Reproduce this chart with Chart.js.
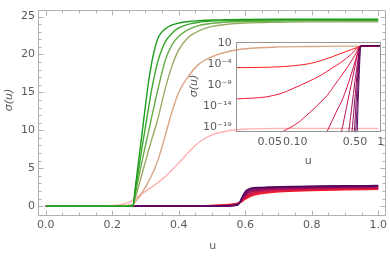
<!DOCTYPE html>
<html><head><meta charset="utf-8">
<script src="https://cdn.jsdelivr.net/npm/chart.js@4/dist/chart.umd.min.js"></script>
<style>
html,body{margin:0;padding:0;background:#fff;}
#wrap{position:relative;width:390px;height:257px;overflow:hidden;}
#main{position:absolute;left:0;top:0;}
#inset{position:absolute;left:180px;top:30px;}
</style></head>
<body><div id="wrap"><canvas id="main" width="390" height="257"></canvas><canvas id="inset" width="210" height="140"></canvas></div>
<script>
// ---------- main chart data ----------
const U_GREEN = [0, 0.1, 0.2, 0.22, 0.24, 0.25, 0.262, 0.27, 0.28, 0.29, 0.30, 0.31, 0.32, 0.33, 0.34, 0.36, 0.38, 0.40, 0.43, 0.46, 0.50, 0.55, 0.60, 0.70, 0.80, 0.90, 1.0];
const G1 = [0,0,0,0,0,0,0.05,2.7,6.2,9.7,13.3,16.6,19.2,21.1,22.4,23.4,23.9,24.15,24.35,24.45,24.55,24.6,24.62,24.64,24.65,24.65,24.65];
const G2 = [0,0,0,0,0,0,0.05,2.2,5.0,7.8,10.5,13.2,15.7,17.8,19.5,21.7,22.8,23.5,24.0,24.25,24.4,24.47,24.5,24.53,24.55,24.55,24.55];
const G3 = [0,0,0,0,0,0,0.05,1.7,3.9,6.0,8.0,10.0,12.0,14.0,15.9,19.3,21.3,22.4,23.3,23.8,24.1,24.28,24.35,24.4,24.43,24.45,24.45];
const G4 = [0,0,0,0,0,0.01,0.08,1.2,2.7,4.3,5.9,7.5,9.0,10.4,12.0,15.6,18.5,20.6,22.3,23.1,23.7,24.0,24.15,24.25,24.3,24.3,24.3];
const TAN = [0,0,0.01,0.03,0.08,0.13,0.25,0.6,1.15,1.8,2.5,3.3,4.2,5.2,6.4,9.4,12.5,15.0,17.2,18.7,19.7,20.4,20.75,21.0,21.05,21.1,21.1];
const PINK = [0,0.01,0.08,0.17,0.35,0.5,0.8,1.05,1.35,1.65,1.95,2.25,2.55,2.85,3.2,3.9,4.8,5.7,7.1,8.4,9.4,9.95,10.15,10.25,10.25,10.25,10.25];

const U_RED = [0, 0.4, 0.5, 0.55, 0.57, 0.58, 0.59, 0.60, 0.61, 0.62, 0.64, 0.67, 0.70, 0.75, 0.80, 0.90, 1.0];
const R0 = [0,0.01,0.10,0.22,0.33,0.42,0.60,0.90,1.15,1.35,1.58,1.76,1.87,1.98,2.06,2.15,2.20];
const R1 = [0,0.01,0.08,0.19,0.30,0.40,0.62,0.98,1.25,1.45,1.68,1.84,1.94,2.04,2.12,2.21,2.26];
const R2 = [0,0,0.06,0.16,0.27,0.38,0.65,1.07,1.36,1.56,1.78,1.93,2.02,2.11,2.18,2.27,2.32];
const R3 = [0,0,0.05,0.13,0.24,0.36,0.70,1.17,1.48,1.68,1.88,2.02,2.10,2.18,2.24,2.33,2.38];
const R4 = [0,0,0.04,0.11,0.21,0.34,0.76,1.28,1.60,1.80,1.98,2.11,2.18,2.25,2.31,2.39,2.44];
const R5 = [0,0,0.03,0.09,0.18,0.32,0.83,1.40,1.73,1.92,2.08,2.20,2.26,2.33,2.38,2.45,2.50];
const R6 = [0,0,0.02,0.07,0.15,0.30,0.90,1.53,1.86,2.04,2.18,2.28,2.34,2.40,2.45,2.51,2.56];
const R7 = [0,0,0.01,0.05,0.12,0.28,0.98,1.66,1.99,2.16,2.28,2.36,2.42,2.47,2.52,2.57,2.61];
const R8 = [0,0,0.01,0.03,0.10,0.26,1.06,1.80,2.12,2.28,2.38,2.45,2.50,2.55,2.59,2.63,2.66];
const R9 = [0,0,0,0.02,0.08,0.24,1.15,1.95,2.25,2.40,2.48,2.53,2.58,2.62,2.65,2.69,2.72];

const X_TICKS = [0, 0.2, 0.4, 0.6, 0.8, 1.0];
const Y_TICKS = [0, 5, 10, 15, 20, 25];

// ---------- inset data (log-log) ----------
const IA_U = [0.02,0.05,0.1,0.15,0.2,0.27,0.35,0.45,0.53,0.57,0.62,0.7,1];
const IA_S = [1.6e-5,2e-5,5e-5,1.6e-4,8e-4,6.3e-3,0.05,0.32,1.12,2.0,2.3,2.35,2.4];
const IB_U = [0.02,0.046,0.07,0.094,0.14,0.2,0.27,0.35,0.45,0.53,0.57,0.62,0.7,1];
const IB_S = [5e-13,1.6e-12,1.25e-11,1.6e-10,6.3e-9,2.5e-7,1.25e-5,4e-4,0.025,0.8,2.0,2.4,2.45,2.5];
const IC_U = [0.062,0.069,0.106,0.144,0.2,0.235,0.3,0.41,0.5,0.57,0.62,1];
const IC_S = [1e-21,5e-21,8e-19,1.8e-16,1e-13,3.2e-12,3.2e-9,2.5e-5,0.016,1.9,2.5,2.6];
const ID_U = [0.2,0.233,0.3,0.36,0.45,0.52,0.57,0.62,1];
const ID_S = [1e-23,5e-21,3.2e-16,6.3e-13,3.2e-7,6.3e-3,1.9,2.5,2.7];
const IE_U = [0.33,0.345,0.4,0.45,0.5,0.54,0.57,0.62,1];
const IE_S = [3.2e-22,5e-21,1e-14,1e-9,3.2e-5,0.05,2.0,2.6,2.75];
const IF_U = [0.41,0.42,0.46,0.5,0.54,0.57,0.62,1];
const IF_S = [1e-21,5e-21,1e-14,1e-8,1e-3,2.0,2.6,2.8];
const IG_U = [0.455,0.46,0.49,0.52,0.55,0.573,0.62,1];
const IG_S = [1e-21,5e-21,1e-14,1e-8,3.2e-3,2.0,2.7,2.8];
const IH_U = [0.485,0.49,0.51,0.535,0.555,0.577,0.62,1];
const IH_S = [1e-21,5e-21,3.2e-15,3.2e-8,3.2e-3,2.0,2.7,2.9];
const II_U = [0.505,0.51,0.53,0.55,0.565,0.58,0.62,1];
const II_S = [3.2e-22,5e-21,3.2e-14,3.2e-7,1e-2,2.0,2.7,2.9];
const IJ_U = [0.527,0.53,0.545,0.56,0.572,0.585,0.62,1];
const IJ_S = [3.2e-22,5e-21,1e-13,3.2e-7,6.3e-3,2.1,2.75,2.95];

const INSET_X_TICKS = [0.05, 0.1, 0.5, 1];
const INSET_X_LABELS = ['0.05', '0.10', '0.50', '1'];
const INSET_Y_TICKS = [1e-19, 1e-14, 1e-9, 1e-4, 10];
const INSET_Y_LABELS = ['10\u207B\u00B9\u2079', '10\u207B\u00B9\u2074', '10\u207B\u2079', '10\u207B\u2074', '10'];

// ---------- styles ----------
const RED_COLORS = ['#ff1c1c','#f01a32','#e01842','#cf154c','#bd1253','#a80f58','#930d5b','#7d0b5c','#68095d','#52075c'];
const LABEL_FONT = {family: 'DejaVu Sans', size: 11};
const LABEL_COLOR = '#5a5a5a';

function pts(us, vs) { return us.map((u, i) => ({x: u, y: vs[i]})); }
function ds(us, vs, color, w) {
  return {data: pts(us, vs), borderColor: color, borderWidth: w, pointRadius: 0, fill: false, cubicInterpolationMode: 'monotone'};
}

const redSets = [R9,R8,R7,R6,R5,R4,R3,R2,R1,R0].map((arr, i) => ds(U_RED, arr, RED_COLORS[9 - i], 1.3));
const mainSets = [
  ds(U_GREEN, G1, '#1a9c1a', 1.4),
  ds(U_GREEN, G2, '#3aa82e', 1.4),
  ds(U_GREEN, G3, '#66ad45', 1.4),
  ds(U_GREEN, G4, '#98aa62', 1.4),
  ds(U_GREEN, TAN, '#d9a585', 1.4),
  ds(U_GREEN, PINK, '#ffb0b0', 1.4),
  ...redSets
];

const mainDeco = {
  id: 'mainDeco',
  afterDatasetsDraw(chart) {
    const {ctx, chartArea: a, scales: {x, y}} = chart;
    ctx.save();
    ctx.strokeStyle = '#b0b0b0';
    ctx.lineWidth = 1;
    ctx.beginPath();
    const L = Math.round(a.left) + 0.5, R = Math.round(a.right) - 0.5, T = Math.round(a.top) + 0.5, B = Math.round(a.bottom) - 0.5;
    ctx.rect(L, T, R - L, B - T);
    for (let v = 0; v <= 1.0001; v += 0.05) {
      const px = Math.round(x.getPixelForValue(v)) + 0.5;
      const major = Math.abs(v / 0.2 - Math.round(v / 0.2)) < 1e-6;
      const len = major ? 5 : 3;
      ctx.moveTo(px, B); ctx.lineTo(px, B - len);
      ctx.moveTo(px, T); ctx.lineTo(px, T + len);
    }
    for (let v = 0; v <= 25.0001; v += 1) {
      const py = Math.round(y.getPixelForValue(v)) + 0.5;
      const len = (v % 5 === 0) ? 5 : 3;
      ctx.moveTo(L, py); ctx.lineTo(L + len, py);
      ctx.moveTo(R, py); ctx.lineTo(R - len, py);
    }
    ctx.stroke();
    // axis titles
    ctx.fillStyle = LABEL_COLOR;
    ctx.textAlign = 'center';
    ctx.textBaseline = 'middle';
    ctx.font = '11px "DejaVu Sans"';
    ctx.fillText('u', 212.7, 246.5);
    ctx.save();
    ctx.translate(9, 100);
    ctx.rotate(-Math.PI / 2);
    ctx.font = 'italic 11px "DejaVu Sans"';
    ctx.fillText('\u03C3(u)', 0, 0);
    ctx.restore();
    ctx.restore();
  }
};

new Chart(document.getElementById('main'), {
  type: 'line',
  data: {datasets: mainSets},
  options: {
    responsive: false, animation: false,
    layout: {padding: {top: 1, right: 2.5, left: 0, bottom: 0}},
    plugins: {legend: {display: false}, tooltip: {enabled: false}},
    scales: {
      x: {
        type: 'linear', min: -0.0233, max: 1.0224,
        afterBuildTicks: s => { s.ticks = X_TICKS.map(v => ({value: v})); },
        afterFit: s => { s.height = 41; },
        ticks: {callback: v => Number(v).toFixed(1), font: LABEL_FONT, color: LABEL_COLOR, padding: 3, maxRotation: 0, autoSkip: false},
        grid: {display: false, drawTicks: false}, border: {display: false}
      },
      y: {
        type: 'linear', min: -1.30, max: 25.92,
        afterBuildTicks: s => { s.ticks = Y_TICKS.map(v => ({value: v})); },
        afterFit: s => { s.width = 38; },
        ticks: {font: LABEL_FONT, color: LABEL_COLOR, padding: 3, autoSkip: false},
        grid: {display: false, drawTicks: false}, border: {display: false}
      }
    }
  },
  plugins: [mainDeco]
});

// ---------- inset ----------
const insetSets = [
  ds(IJ_U, IJ_S, RED_COLORS[9], 1),
  ds(II_U, II_S, RED_COLORS[8], 1),
  ds(IH_U, IH_S, RED_COLORS[7], 1),
  ds(IG_U, IG_S, RED_COLORS[6], 1),
  ds(IF_U, IF_S, RED_COLORS[5], 1),
  ds(IE_U, IE_S, RED_COLORS[4], 1),
  ds(ID_U, ID_S, RED_COLORS[3], 1),
  ds(IC_U, IC_S, RED_COLORS[2], 1),
  ds(IB_U, IB_S, RED_COLORS[1], 1),
  ds(IA_U, IA_S, RED_COLORS[0], 1)
];

const insetDeco = {
  id: 'insetDeco',
  afterDatasetsDraw(chart) {
    const {ctx, chartArea: a} = chart;
    ctx.save();
    ctx.strokeStyle = '#959595';
    ctx.lineWidth = 1;
    const L = Math.round(a.left) + 0.5, R = Math.round(a.right) - 0.5, T = Math.round(a.top) + 0.5, B = Math.round(a.bottom) - 0.5;
    ctx.strokeRect(L, T, R - L, B - T);
    ctx.fillStyle = LABEL_COLOR;
    ctx.textAlign = 'center';
    ctx.textBaseline = 'middle';
    ctx.font = '11px "DejaVu Sans"';
    ctx.fillText('u', 128.3, 131.5);
    ctx.translate(14, 56);
    ctx.rotate(-Math.PI / 2);
    ctx.font = 'italic 11px "DejaVu Sans"';
    ctx.fillText('\u03C3(u)', 0, 0);
    ctx.restore();
  }
};

new Chart(document.getElementById('inset'), {
  type: 'line',
  data: {datasets: insetSets},
  options: {
    responsive: false, animation: false,
    layout: {padding: {top: 12.3, right: 9.3, left: 0, bottom: 0}},
    plugins: {legend: {display: false}, tooltip: {enabled: false}},
    scales: {
      x: {
        type: 'logarithmic', min: 0.02, max: 1,
        afterBuildTicks: s => { s.ticks = INSET_X_TICKS.map(v => ({value: v})); },
        afterFit: s => { s.height = 37.7; },
        ticks: {callback: (v, i) => INSET_X_LABELS[i], font: LABEL_FONT, color: LABEL_COLOR, padding: 3, maxRotation: 0, autoSkip: false},
        grid: {display: false, drawTicks: false}, border: {display: false}
      },
      y: {
        type: 'logarithmic', min: 5e-21, max: 19,
        afterBuildTicks: s => { s.ticks = INSET_Y_TICKS.map(v => ({value: v})); },
        afterFit: s => { s.width = 55.7; },
        ticks: {callback: (v, i) => INSET_Y_LABELS[i], font: LABEL_FONT, color: LABEL_COLOR, padding: 4, autoSkip: false},
        grid: {display: false, drawTicks: false}, border: {display: false}
      }
    }
  },
  plugins: [insetDeco]
});
</script>
</body></html>
